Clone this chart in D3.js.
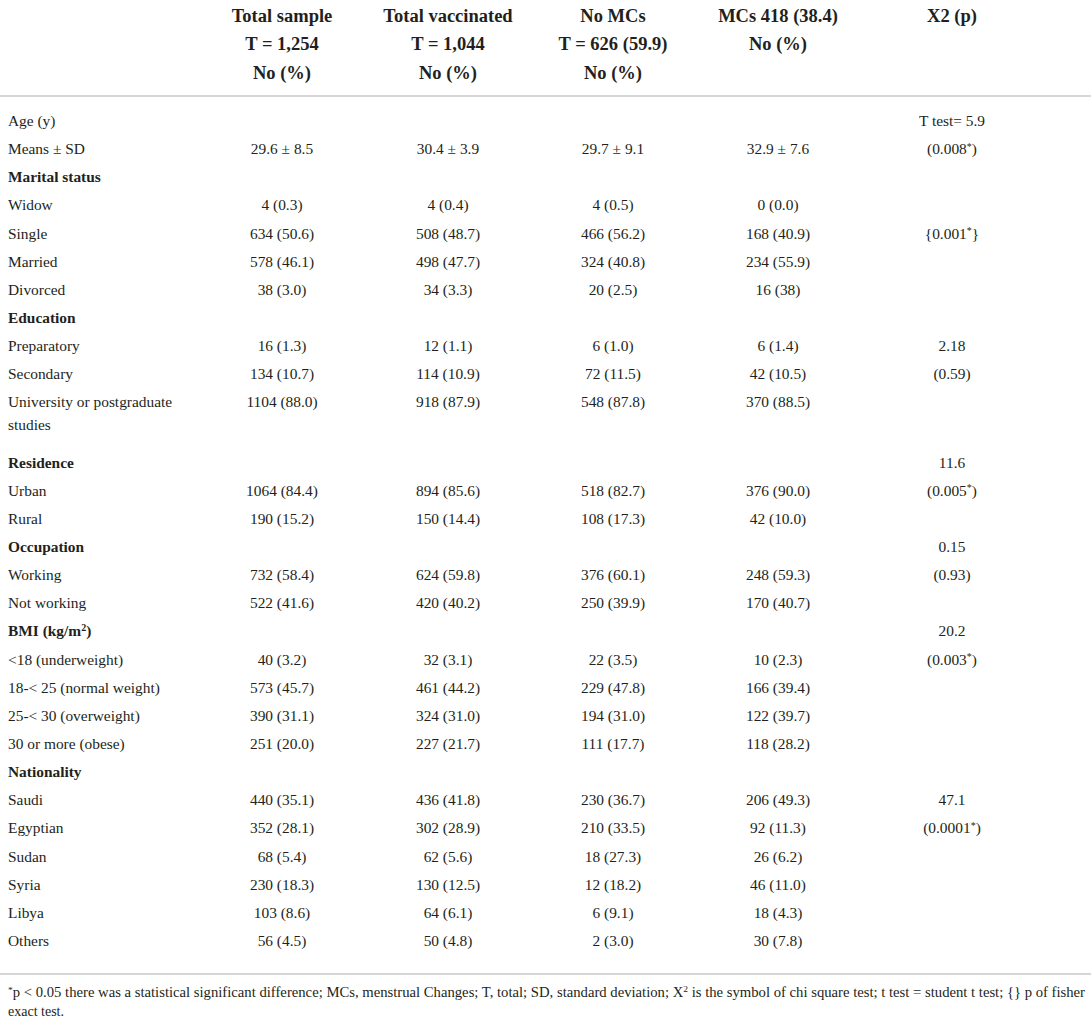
<!DOCTYPE html>
<html>
<head>
<meta charset="utf-8">
<script src="https://cdn.jsdelivr.net/npm/d3@7"></script>
<style>
  html, body { margin: 0; padding: 0; background: #fff; }
  svg text { font-family: "Liberation Serif", "Times New Roman", serif; fill: #231f20; }
</style>
</head>
<body>
<div id="table"></div>
<script>
// column headers, one array of lines per column
const columnKeys = ["total", "vaccinated", "noMCs", "mcs", "stat"];
const columnHeaders = [
  ["Total sample", "T = 1,254", "No (%)"],
  ["Total vaccinated", "T = 1,044", "No (%)"],
  ["No MCs", "T = 626 (59.9)", "No (%)"],
  ["MCs 418 (38.4)", "No (%)"],
  ["X2 (p)"],
];

const rowLabels = [
  "Age (y)", "Means \u00b1 SD", "Marital status", "Widow", "Single", "Married", "Divorced",
  "Education", "Preparatory", "Secondary", "University or postgraduate|studies",
  "Residence", "Urban", "Rural", "Occupation", "Working", "Not working",
  "BMI (kg/m2)", "<18 (underweight)", "18-< 25 (normal weight)", "25-< 30 (overweight)",
  "30 or more (obese)", "Nationality", "Saudi", "Egyptian", "Sudan", "Syria", "Libya", "Others",
];
const sectionLabels = ["Marital status", "Education", "Residence", "Occupation", "BMI (kg/m2)", "Nationality"];

const totalSample = [
  "", "29.6 \u00b1 8.5", "", "4 (0.3)", "634 (50.6)", "578 (46.1)", "38 (3.0)",
  "", "16 (1.3)", "134 (10.7)", "1104 (88.0)",
  "", "1064 (84.4)", "190 (15.2)", "", "732 (58.4)", "522 (41.6)",
  "", "40 (3.2)", "573 (45.7)", "390 (31.1)", "251 (20.0)",
  "", "440 (35.1)", "352 (28.1)", "68 (5.4)", "230 (18.3)", "103 (8.6)", "56 (4.5)",
];
const totalVaccinated = [
  "", "30.4 \u00b1 3.9", "", "4 (0.4)", "508 (48.7)", "498 (47.7)", "34 (3.3)",
  "", "12 (1.1)", "114 (10.9)", "918 (87.9)",
  "", "894 (85.6)", "150 (14.4)", "", "624 (59.8)", "420 (40.2)",
  "", "32 (3.1)", "461 (44.2)", "324 (31.0)", "227 (21.7)",
  "", "436 (41.8)", "302 (28.9)", "62 (5.6)", "130 (12.5)", "64 (6.1)", "50 (4.8)",
];
const noMCs = [
  "", "29.7 \u00b1 9.1", "", "4 (0.5)", "466 (56.2)", "324 (40.8)", "20 (2.5)",
  "", "6 (1.0)", "72 (11.5)", "548 (87.8)",
  "", "518 (82.7)", "108 (17.3)", "", "376 (60.1)", "250 (39.9)",
  "", "22 (3.5)", "229 (47.8)", "194 (31.0)", "111 (17.7)",
  "", "230 (36.7)", "210 (33.5)", "18 (27.3)", "12 (18.2)", "6 (9.1)", "2 (3.0)",
];
const withMCs = [
  "", "32.9 \u00b1 7.6", "", "0 (0.0)", "168 (40.9)", "234 (55.9)", "16 (38)",
  "", "6 (1.4)", "42 (10.5)", "370 (88.5)",
  "", "376 (90.0)", "42 (10.0)", "", "248 (59.3)", "170 (40.7)",
  "", "10 (2.3)", "166 (39.4)", "122 (39.7)", "118 (28.2)",
  "", "206 (49.3)", "92 (11.3)", "26 (6.2)", "46 (11.0)", "18 (4.3)", "30 (7.8)",
];
const chiSquare = [
  "T test= 5.9", "(0.008*)", "", "", "{0.001*}", "", "",
  "", "2.18", "(0.59)", "",
  "11.6", "(0.005*)", "", "0.15", "(0.93)", "",
  "20.2", "(0.003*)", "", "", "",
  "", "47.1", "(0.0001*)", "", "", "", "",
];

const footnote = [
  "*p < 0.05 there was a statistical significant difference; MCs, menstrual Changes; T, total; SD, standard deviation; X2 is the symbol of chi square test; t test = student t test; {} p of fisher",
  "exact test.",
];

const width = 1091;
const height = 1022;
const rowStep = 28.14;
const wrapExtra = 32;
const firstRowY = 126;
const bodySize = 15.4;

const svg = d3.select("#table")
  .append("svg")
  .attr("width", width)
  .attr("height", height);

const colX = d3.scaleOrdinal()
  .domain(columnKeys)
  .range([282, 448, 613, 778, 952]);

// row baselines: the wrapped label pushes the rows below it down
const rowY = [];
let extra = 0;
rowLabels.forEach((label, i) => {
  rowY.push(firstRowY + i * rowStep + extra);
  if (label.includes("|")) extra += wrapExtra;
});

// writes text, turning "*" into a superscript and "m2" / "X2" into a squared form
function addRich(sel, str, size) {
  const parts = str.split(/(\*|m2|X2)/).filter((p) => p !== "");
  let pendingDy = 0;
  const plain = (txt) => {
    const ts = sel.append("tspan").text(txt);
    if (pendingDy) ts.attr("dy", pendingDy);
    pendingDy = 0;
  };
  const sup = (txt, lift) => {
    sel.append("tspan")
      .attr("font-size", size * 0.65)
      .attr("dy", -size * lift + pendingDy)
      .text(txt);
    pendingDy = size * lift;
  };
  parts.forEach((p) => {
    if (p === "*") sup("*", 0.3);
    else if (p === "m2" || p === "X2") {
      plain(p[0]);
      sup("2", 0.38);
    } else plain(p);
  });
}

// header
const header = svg.append("g");
columnHeaders.forEach((lines, c) => {
  const t = header.append("text")
    .attr("x", colX(columnKeys[c]))
    .attr("text-anchor", "middle")
    .attr("font-weight", "bold")
    .attr("font-size", 18.5);
  lines.forEach((line, j) => {
    t.append("tspan")
      .attr("x", colX(columnKeys[c]))
      .attr("y", 22 + j * 28.3)
      .text(line);
  });
});

svg.append("line")
  .attr("x1", 0).attr("x2", width)
  .attr("y1", 96).attr("y2", 96)
  .attr("stroke", "#c8c8c8")
  .attr("stroke-width", 1.5);

// body rows
const body = svg.append("g");
rowLabels.forEach((label, i) => {
  const bold = sectionLabels.includes(label);
  const lines = label.split("|");
  lines.forEach((line, j) => {
    const t = body.append("text")
      .attr("x", 8)
      .attr("y", rowY[i] + j * 23)
      .attr("font-size", bodySize)
      .attr("font-weight", bold ? "bold" : "normal");
    addRich(t, line, bodySize);
  });

  [totalSample, totalVaccinated, noMCs, withMCs, chiSquare].forEach((series, c) => {
    if (!series[i]) return;
    const t = body.append("text")
      .attr("x", colX(columnKeys[c]))
      .attr("y", rowY[i])
      .attr("text-anchor", "middle")
      .attr("font-size", bodySize);
    addRich(t, series[i], bodySize);
  });
});

svg.append("line")
  .attr("x1", 0).attr("x2", width)
  .attr("y1", 974).attr("y2", 974)
  .attr("stroke", "#c8c8c8")
  .attr("stroke-width", 1.5);

// footnote
footnote.forEach((line, j) => {
  const t = svg.append("text")
    .attr("x", 8)
    .attr("y", 997 + j * 19)
    .attr("font-size", 14);
  addRich(t, line, 14);
  if (j === 0) t.attr("textLength", 1077).attr("lengthAdjust", "spacingAndGlyphs");
});
</script>
</body>
</html>
